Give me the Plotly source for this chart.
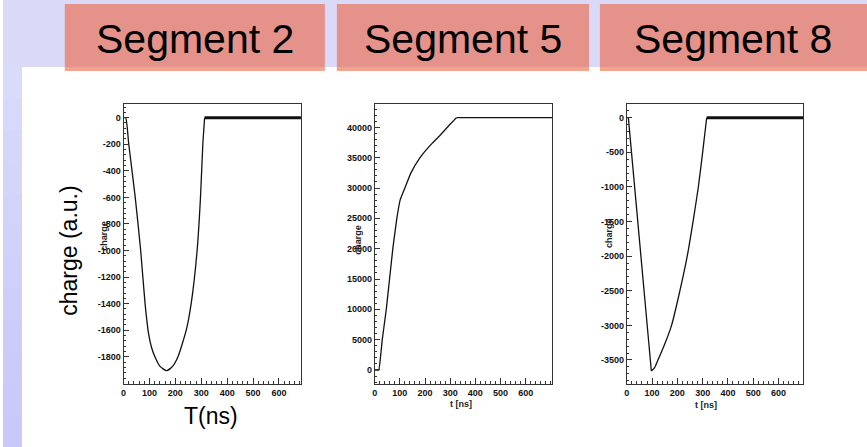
import plotly.graph_objects as go

W, H = 867, 447

# ---------------- data ----------------
headers = ["Segment 2", "Segment 5", "Segment 8"]

t_seg2 = [0, 8, 20, 45, 66, 83, 96, 108, 121, 140, 166, 190, 210, 242, 261, 284, 297, 306, 313]
q_seg2 = [0, 0, -200, -600, -1000, -1400, -1620, -1730, -1800, -1870, -1905, -1870, -1800, -1600, -1400, -1000, -600, -200, 0]
t_seg2_flat = [313, 685]
q_seg2_flat = [0, 0]

t_seg5 = [0, 10, 16, 30, 46, 59, 72, 88, 101, 120, 144, 180, 203, 229, 260, 295, 325]
q_seg5 = [0, 0, 0, 5000, 10000, 15000, 20000, 25000, 28000, 30000, 32500, 35000, 36200, 37400, 38700, 40300, 41600]
t_seg5_flat = [325, 705]
q_seg5_flat = [41600, 41600]

t_seg8_fall = [0, 6, 97]
q_seg8_fall = [0, 0, -3660]
t_seg8_rise = [97, 110, 121, 150, 177, 210, 239, 262, 283, 300, 316]
q_seg8_rise = [-3660, -3610, -3520, -3270, -3000, -2500, -2000, -1500, -1000, -500, 0]
t_seg8_flat = [316, 698]
q_seg8_flat = [0, 0]

y1_ticks = [0, -200, -400, -600, -800, -1000, -1200, -1400, -1600, -1800]
y2_ticks = [0, 5000, 10000, 15000, 20000, 25000, 30000, 35000, 40000]
y3_ticks = [0, -500, -1000, -1500, -2000, -2500, -3000, -3500]
x_ticks = [0, 100, 200, 300, 400, 500, 600]

# ---------------- helpers ----------------
def px(x):
    return x / W

def py(y):
    return 1 - y / H

fig = go.Figure()

panels = [
    dict(x0=121, x1=299, xr=[0, 685], yr=[-2005, 103], ytick=y1_ticks, ymin=40),
    dict(x0=373, x1=551, xr=[0, 705], yr=[-2310, 43850], ytick=y2_ticks, ymin=1000),
    dict(x0=626, x1=803, xr=[0, 698], yr=[-3847, 198], ytick=y3_ticks, ymin=100),
]
ydom = [py(384), py(104)]

tickfont = dict(family="Liberation Sans Narrow, Arial, sans-serif", size=9, color="#111")
frame = "#333333"

for i, p in enumerate(panels):
    n = "" if i == 0 else str(i + 1)
    fig.update_layout(**{
        "xaxis" + n: dict(
            domain=[px(p["x0"]), px(p["x1"])], range=p["xr"], anchor="y" + n,
            showline=True, linecolor=frame, linewidth=1, mirror=True,
            showgrid=False, zeroline=False,
            ticks="inside", ticklen=6, tickwidth=1, tickcolor=frame,
            tickvals=x_ticks, ticktext=["<b>%d</b>" % v for v in x_ticks],
            minor=dict(ticks="inside", ticklen=3, dtick=20, tick0=0, tickcolor=frame, showgrid=False),
            tickfont=tickfont,
            fixedrange=True,
        ),
        "yaxis" + n: dict(
            domain=ydom, range=p["yr"], anchor="x" + n,
            showline=True, linecolor=frame, linewidth=1, mirror=True,
            showgrid=False, zeroline=False,
            ticks="inside", ticklen=5, tickwidth=1, tickcolor=frame,
            tickvals=p["ytick"], ticktext=["<b>%d</b>" % v for v in p["ytick"]],
            minor=dict(ticks="inside", ticklen=2.5, dtick=p["ymin"], tick0=0, tickcolor=frame, showgrid=False),
            tickfont=tickfont,
            fixedrange=True,
        ),
    })

line = dict(color="#111111", width=1.3)
thick = dict(color="#111111", width=3)

def add(x, y, ax, ln):
    fig.add_trace(go.Scatter(x=x, y=y, mode="lines", line=ln, xaxis="x" + ax, yaxis="y" + ax,
                             showlegend=False, hoverinfo="skip"))

add(t_seg2, q_seg2, "", dict(line, shape="spline", smoothing=0.6))
add(t_seg2_flat, q_seg2_flat, "", thick)
add(t_seg5, q_seg5, "2", dict(line, shape="spline", smoothing=0.4))
add(t_seg5_flat, q_seg5_flat, "2", line)
add(t_seg8_fall, q_seg8_fall, "3", line)
add(t_seg8_rise, q_seg8_rise, "3", dict(line, shape="spline", smoothing=0.5))
add(t_seg8_flat, q_seg8_flat, "3", thick)

# ---------------- slide decoration ----------------
shapes = []
lav = "#DADAF8"
shapes.append(dict(type="rect", xref="paper", yref="paper", x0=0, x1=1, y0=py(67), y1=1,
                   fillcolor=lav, line=dict(width=0), layer="below"))
nb = 12
for k in range(nb):
    ya = 67 + (H - 67) * k / nb
    yb = 67 + (H - 67) * (k + 1) / nb + 3
    f = k / (nb - 1)
    r = int(0xDA + (0xC8 - 0xDA) * f)
    col = "#%02X%02XFA" % (r, r)
    shapes.append(dict(type="rect", xref="paper", yref="paper", x0=0, x1=px(19), y0=py(min(yb, H)), y1=py(ya),
                       fillcolor=col, line=dict(width=0), layer="below"))

boxes = [(62, 323), (335, 588), (599, 867)]
annotations = []
for (bx0, bx1), txt in zip(boxes, headers):
    shapes.append(dict(type="rect", xref="paper", yref="paper", x0=px(bx0), x1=px(bx1), y0=py(67), y1=py(4),
                       fillcolor="#E5928A", line=dict(width=0), layer="below"))
    shapes.append(dict(type="rect", xref="paper", yref="paper", x0=px(bx0), x1=px(bx1), y0=py(71), y1=py(67),
                       fillcolor="#F2A58D", line=dict(width=0), layer="below"))
    annotations.append(dict(xref="paper", yref="paper", x=px((bx0 + bx1) / 2), y=py(39), text=txt,
                            showarrow=False, xanchor="center", yanchor="middle",
                            font=dict(family="Liberation Sans, Arial, sans-serif", size=41, color="#000")))

small = dict(family="Liberation Sans Narrow, Arial, sans-serif", size=9, color="#222")
for xc, yc in [(101, 236), (356, 240), (608, 233)]:
    annotations.append(dict(xref="paper", yref="paper", x=px(xc), y=py(yc), text="<b>charge</b>",
                            showarrow=False, textangle=-90, xanchor="center", yanchor="middle", font=small))
for xc, yc in [(460, 404), (705, 405)]:
    annotations.append(dict(xref="paper", yref="paper", x=px(xc), y=py(yc), text="<b>t [ns]</b>",
                            showarrow=False, xanchor="center", yanchor="middle", font=small))

big = dict(family="Liberation Sans, Arial, sans-serif", size=23, color="#000")
annotations.append(dict(xref="paper", yref="paper", x=px(66), y=py(251), text="charge (a.u.)",
                        showarrow=False, textangle=-90, xanchor="center", yanchor="middle", font=big))
annotations.append(dict(xref="paper", yref="paper", x=px(209), y=py(416), text="T(ns)",
                        showarrow=False, xanchor="center", yanchor="middle", font=big))

fig.update_layout(
    width=W, height=H, margin=dict(l=0, r=0, t=0, b=0),
    paper_bgcolor="white", plot_bgcolor="white",
    shapes=shapes, annotations=annotations, showlegend=False,
)

fig.write_html("out.html", config={"displayModeBar": False},
               post_script="document.body.style.margin='0';document.body.style.overflow='hidden';")
